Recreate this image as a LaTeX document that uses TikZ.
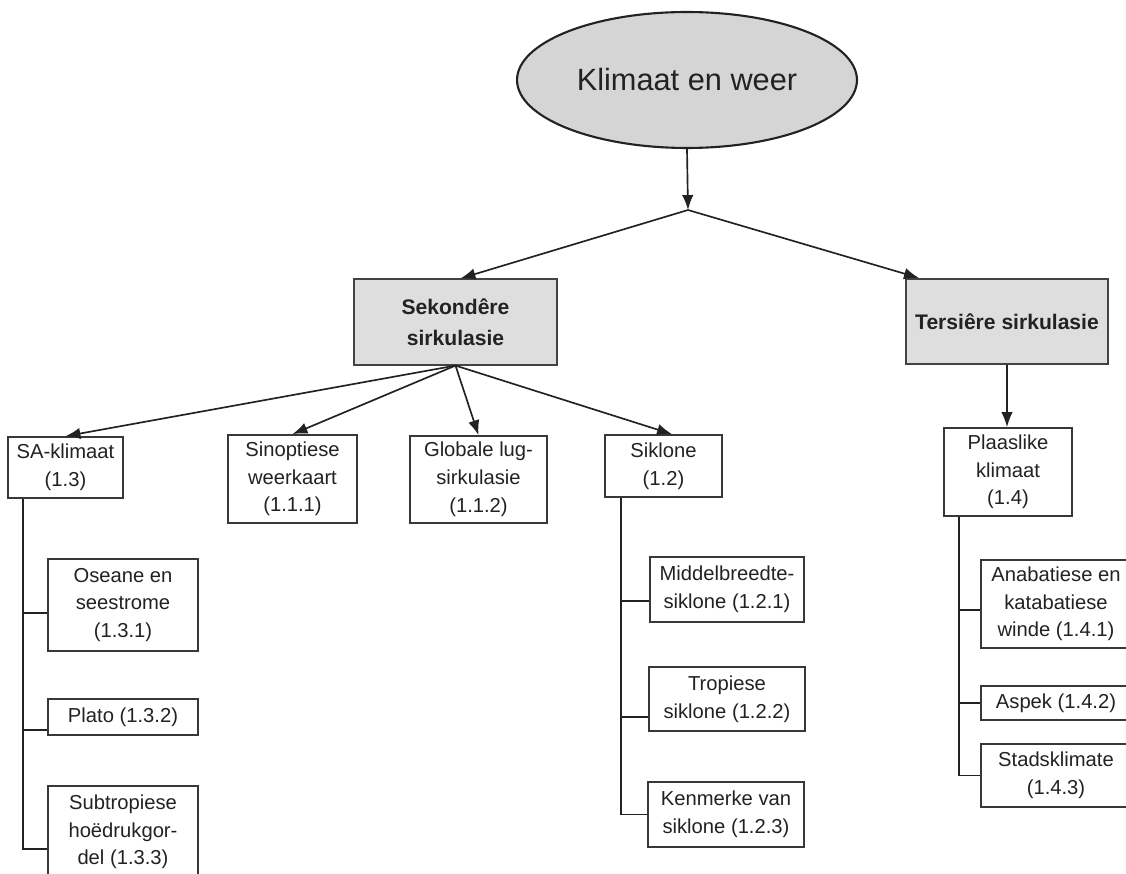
\documentclass[tikz,border=0pt]{standalone}
\usepackage{fontspec}
\setmainfont{Liberation Sans}
\usetikzlibrary{arrows.meta,shapes.geometric}
\definecolor{boxgray}{HTML}{DEDEDE}
\definecolor{ovalgray}{HTML}{D5D5D5}
\definecolor{inkgray}{HTML}{222222}

\begin{document}
\begin{tikzpicture}[
    x=0.02cm, y=-0.02cm,
    >={Latex[length=8.5pt,width=6.5pt]},
    link/.style={draw=inkgray, line width=0.95pt},
    topic/.style={draw=inkgray, ellipse, fill=ovalgray, line width=1.2pt, minimum width=6.8cm, minimum height=2.72cm, font=\fontsize{17.5}{21}\selectfont, text=inkgray},
    main/.style={draw=inkgray!85, rectangle, fill=boxgray, line width=0.95pt, align=center, minimum width=4.05cm, minimum height=1.71cm, font=\fontsize{12}{17.6}\selectfont\bfseries, text=inkgray},
    leaf/.style={draw=inkgray!90, rectangle, fill=white, line width=0.95pt, align=center, inner sep=1pt, font=\fontsize{11.5}{15.8}\selectfont, text=inkgray}
]
    \useasboundingbox (0,0) rectangle (1126,874);

    % Top
    \node[topic] (klimaat) at (687,80) {Klimaat en weer};
    \coordinate (split) at (688,210);
    \draw[link,->] (klimaat.south) -- (split);

    % Second level
    \node[main] (sek) at (455.5,322) {Sekondêre\\sirkulasie};
    \node[main] (ter) at (1007,321.5) {Tersiêre sirkulasie};
    \draw[link,->] (split) -- ([xshift=0.1cm]sek.north);
    \draw[link,->] (split) -- ([xshift=0.28cm]ter.north west);

    % Secondary branches
    \node[leaf, minimum width=2.3cm, minimum height=1.22cm] (sa) at (65.5,467.5) {SA-klimaat\\(1.3)};
    \node[leaf, minimum width=2.58cm, minimum height=1.76cm] (sin) at (292.5,479) {Sinoptiese\\weerkaart\\(1.1.1)};
    \node[leaf, minimum width=2.74cm, minimum height=1.74cm] (glo) at (478.5,479.5) {Globale lug-\\sirkulasie\\(1.1.2)};
    \node[leaf, minimum width=2.34cm, minimum height=1.24cm] (sik) at (663.5,466) {Siklone\\(1.2)};
    \draw[link,->] (sek.south) -- (sa.north);
    \draw[link,->] (sek.south) -- (sin.north);
    \draw[link,->] (sek.south) -- (glo.north);
    \draw[link,->] (sek.south) -- ([xshift=0.17cm]sik.north);

    % SA-klimaat
    \node[leaf, minimum width=3cm, minimum height=1.84cm] (ose) at (123,605) {Oseane en\\seestrome\\(1.3.1)};
    \node[leaf, minimum width=3cm, minimum height=0.72cm] (plato) at (123,717) {Plato (1.3.2)};
    \node[leaf, minimum width=3cm, minimum height=1.84cm] (sub) at (123,832) {Subtropiese\\hoëdrukgor-\\del (1.3.3)};
    \coordinate (saT) at ([xshift=0.32cm]sa.south west);
    \draw[link] ([yshift=-4.5pt]ose.west) -| (saT);
    \draw[link] ([yshift=-7.4pt]plato.west) -| (saT);
    \draw[link] ([yshift=-9.7pt]sub.west) -| (saT);

    % Siklone
    \node[leaf, minimum width=3.08cm, minimum height=1.3cm] (mid) at (727,589.5) {Middelbreedte-\\siklone (1.2.1)};
    \node[leaf, minimum width=3.12cm, minimum height=1.28cm] (tro) at (727,699) {Tropiese\\siklone (1.2.2)};
    \node[leaf, minimum width=3.12cm, minimum height=1.3cm] (ken) at (726,814.5) {Kenmerke van\\siklone (1.2.3)};
    \coordinate (sikT) at ([xshift=0.34cm]sik.south west);
    \draw[link] ([yshift=-6.5pt]mid.west) -| (sikT);
    \draw[link] ([yshift=-10.2pt]tro.west) -| (sikT);
    \draw[link] (ken.west) -| (sikT);

    % Tertiary
    \node[leaf, minimum width=2.56cm, minimum height=1.76cm] (pla) at (1008,472) {Plaaslike\\klimaat\\(1.4)};
    \draw[link,->] (ter.south) -- (ter.south |- pla.north);
    \node[leaf, minimum width=3cm, minimum height=1.76cm] (ana) at (1056,604) {Anabatiese en\\katabatiese\\winde (1.4.1)};
    \node[leaf, minimum width=3cm, minimum height=0.68cm] (asp) at (1056,703) {Aspek (1.4.2)};
    \node[leaf, minimum width=3cm, minimum height=1.26cm] (sta) at (1056,775.5) {Stadsklimate\\(1.4.3)};
    \coordinate (plaT) at ([xshift=0.32cm]pla.south west);
    \draw[link] ([yshift=-3.4pt]ana.west) -| (plaT);
    \draw[link] (asp.west) -| (plaT);
    \draw[link] (sta.west) -| (plaT);

\end{tikzpicture}
\end{document}
